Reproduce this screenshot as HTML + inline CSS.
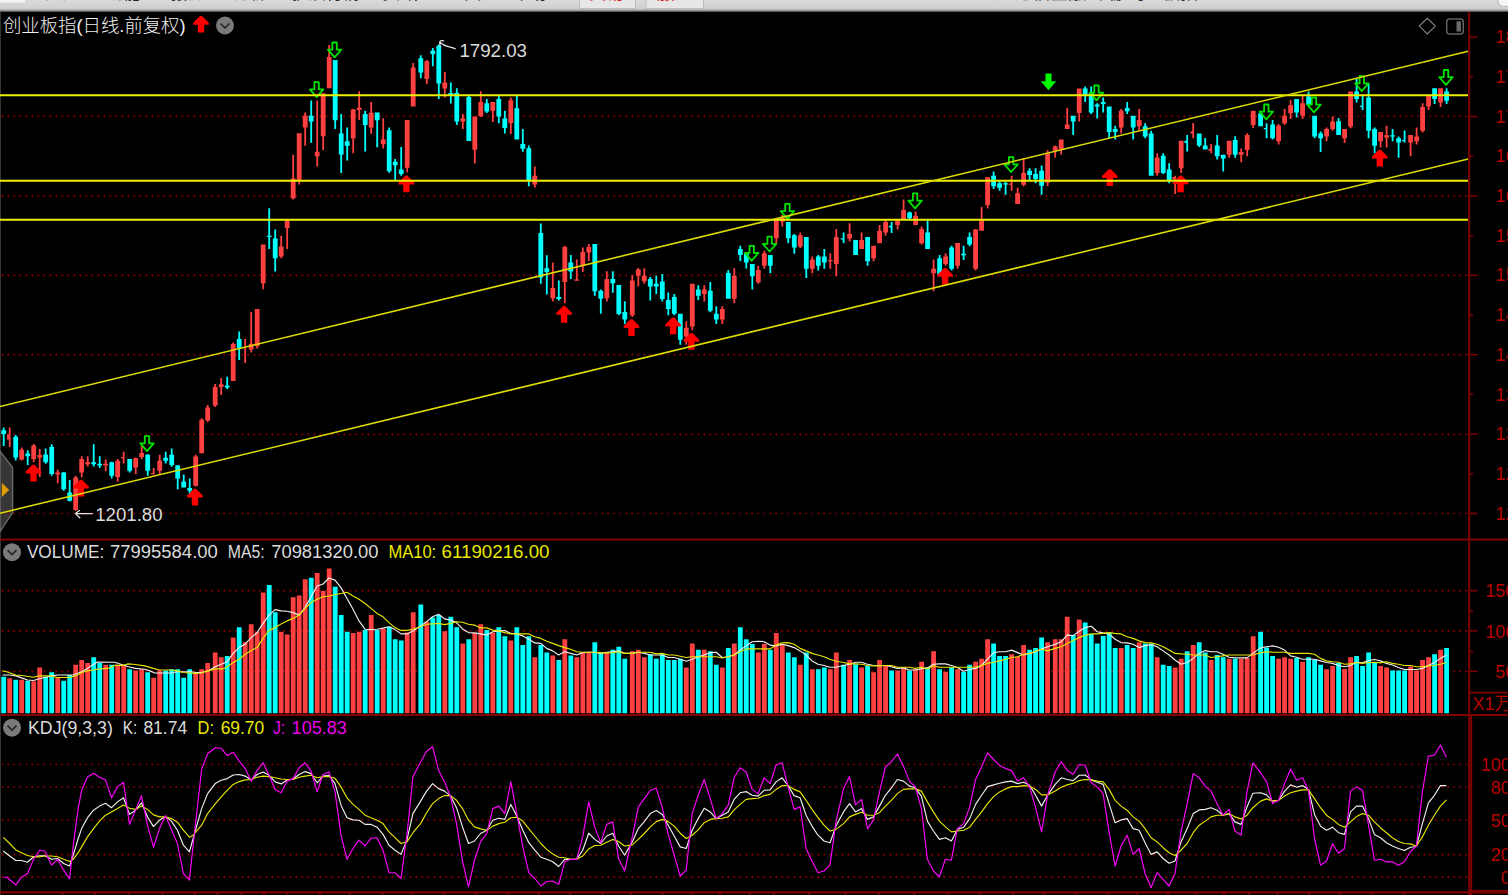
<!DOCTYPE html>
<html lang="zh"><head><meta charset="utf-8"><title>创业板指</title>
<style>
html,body{margin:0;padding:0;background:#000;overflow:hidden}
svg{display:block}
text{font-family:"Liberation Sans","Noto Sans CJK SC",sans-serif;font-size:18px}
.w{fill:#dcdcdc} .y{fill:#eaea00} .m{fill:#e800e8} .r{fill:#b80000}
.menu{font-size:14px;fill:#222}
</style></head><body>
<svg width="1508" height="895" viewBox="0 0 1508 895" shape-rendering="auto">
<defs>
<linearGradient id="tb" x1="0" y1="0" x2="0" y2="1"><stop offset="0" stop-color="#dadada"/><stop offset="0.7" stop-color="#d0d0d0"/><stop offset="0.85" stop-color="#a8a8a8"/><stop offset="1" stop-color="#3a3a3a"/></linearGradient>
<path id="ru" d="M-1,-0.2 L1,-0.2 L7.8,6.6 L7.8,8.6 L3.2,8.6 L3.2,16.5 L-3.2,16.5 L-3.2,8.6 L-7.8,8.6 L-7.8,6.6 Z" fill="#ff0000"/>
<path id="gd" d="M-2.2,0.9 L2.2,0.9 L2.2,8.1 L6.7,8.1 L0,15.8 L-6.7,8.1 L-2.2,8.1 Z" fill="none" stroke="#00e400" stroke-width="1.8" stroke-linejoin="round"/>
<path id="gf" d="M-3,0 L3,0 L3,7.7 L7.7,7.7 L0,16.8 L-7.7,7.7 L-3,7.7 Z" fill="#00ff00"/>
<g id="cb"><circle r="9" fill="#7a7a7a"/><path d="M-4.5,-2 L0,2.4 L4.5,-2" fill="none" stroke="#262626" stroke-width="1.7"/></g>
</defs>
<rect width="1508" height="895" fill="#000"/>

<rect x="0" y="12" width="1" height="883" fill="#343434"/>
<path d="M0,451.2 L12.6,467.6 L12.6,512.8 L0,531.5 Z" fill="#363636" stroke="#6a6a6a" stroke-width="1.4"/>
<path d="M1.8,482.8 L9.2,489.9 L1.8,497 Z" fill="#e09a00"/>
<g id="grid">
<line x1="1.4" y1="116.3" x2="1467.2" y2="116.3" stroke="#8c0000" stroke-width="1.7" stroke-dasharray="1.8 4.2"/>
<line x1="1.4" y1="195.8" x2="1467.2" y2="195.8" stroke="#8c0000" stroke-width="1.7" stroke-dasharray="1.8 4.2"/>
<line x1="1.4" y1="275.3" x2="1467.2" y2="275.3" stroke="#8c0000" stroke-width="1.7" stroke-dasharray="1.8 4.2"/>
<line x1="1.4" y1="354.6" x2="1467.2" y2="354.6" stroke="#8c0000" stroke-width="1.7" stroke-dasharray="1.8 4.2"/>
<line x1="1.4" y1="434.4" x2="1467.2" y2="434.4" stroke="#8c0000" stroke-width="1.7" stroke-dasharray="1.8 4.2"/>
<line x1="1.4" y1="513.5" x2="1467.2" y2="513.5" stroke="#8c0000" stroke-width="1.7" stroke-dasharray="1.8 4.2"/>
<line x1="1.4" y1="590.6" x2="1467.2" y2="590.6" stroke="#8c0000" stroke-width="1.7" stroke-dasharray="1.8 4.2"/>
<line x1="1.4" y1="630.9" x2="1467.2" y2="630.9" stroke="#8c0000" stroke-width="1.7" stroke-dasharray="1.8 4.2"/>
<line x1="1.4" y1="671.4" x2="1467.2" y2="671.4" stroke="#8c0000" stroke-width="1.7" stroke-dasharray="1.8 4.2"/>
<line x1="1.4" y1="764.5" x2="1467.2" y2="764.5" stroke="#8c0000" stroke-width="1.7" stroke-dasharray="1.8 4.2"/>
<line x1="1.4" y1="787" x2="1467.2" y2="787" stroke="#8c0000" stroke-width="1.7" stroke-dasharray="1.8 4.2"/>
<line x1="1.4" y1="820" x2="1467.2" y2="820" stroke="#8c0000" stroke-width="1.7" stroke-dasharray="1.8 4.2"/>
<line x1="1.4" y1="854.7" x2="1467.2" y2="854.7" stroke="#8c0000" stroke-width="1.7" stroke-dasharray="1.8 4.2"/>
<line x1="1.4" y1="877.2" x2="1467.2" y2="877.2" stroke="#8c0000" stroke-width="1.7" stroke-dasharray="1.8 4.2"/>
</g>
<path id="cr" d="M8.8,427.6h1.8V447.1h-1.8zM6.9,434.5h2.4v5h-2.4zM20.8,447.5h1.8V460.6h-1.8zM19.3,449.8h4.8v9.6h-4.8zM32.8,443.9h1.8V462.2h-1.8zM31.3,445.5h4.8v13.5h-4.8zM38.8,449h1.8V476.9h-1.8zM37.3,455h4.8v2.4h-4.8zM56.8,469.7h1.8V483.3h-1.8zM55.3,472.5h4.8v2h-4.8zM74.8,475.7h1.8V510.7h-1.8zM73.3,477.4h4.8v32.5h-4.8zM80.8,456.2h1.8V477.3h-1.8zM79.3,459h4.8v13.5h-4.8zM86.8,456.2h1.8V466.5h-1.8zM85.3,462.2h4.8v2h-4.8zM104.8,459.4h1.8V471.3h-1.8zM103.3,463.8h4.8v1.6h-4.8zM116.8,459h1.8V481.7h-1.8zM115.3,460.7h4.8v16.2h-4.8zM122.8,451.7h1.8V463.4h-1.8zM120.9,457h2.4v1.3h-2.4zM134.8,457.4h1.8V474.1h-1.8zM133.3,458.3h4.8v9.1h-4.8zM140.8,446h1.8V459.3h-1.8zM139.3,453h4.8v3.9h-4.8zM152.8,468.1h1.8V474.5h-1.8zM150.9,473h2.4v1.3h-2.4zM158.8,454.7h1.8V474.2h-1.8zM157.3,460.8h4.8v9.9h-4.8zM194.8,454.7h1.8V486.6h-1.8zM193.3,456.4h4.8v29.3h-4.8zM200.8,418.3h1.8V453.3h-1.8zM199.3,419.8h4.8v33.5h-4.8zM206.8,405h1.8V422h-1.8zM205.3,407.6h4.8v13h-4.8zM214.3,383.9h1.8V407h-1.8zM212.8,386.9h4.8v18.6h-4.8zM220.3,378h1.8V395h-1.8zM218.8,384.2h4.8v2.7h-4.8zM232.3,342.4h1.8V380.9h-1.8zM230.8,344.1h4.8v36.8h-4.8zM244.3,339.1h1.8V362.9h-1.8zM242.4,347h2.4v1.3h-2.4zM250.3,312.1h1.8V352.6h-1.8zM248.8,343.7h4.8v5.9h-4.8zM256.3,309h1.8V348.6h-1.8zM254.8,309h4.8v37.3h-4.8zM262.3,244.5h1.8V289.3h-1.8zM260.8,244.5h4.8v38.7h-4.8zM280.3,235.7h1.8V258.2h-1.8zM278.8,246.5h4.8v10h-4.8zM286.3,219.9h1.8V249h-1.8zM284.8,220.4h4.8v7.5h-4.8zM292.3,154.7h1.8V199.6h-1.8zM290.8,178.6h4.8v19.7h-4.8zM298.3,133.2h1.8V184.6h-1.8zM296.8,133.2h4.8v46.7h-4.8zM304.3,112.4h1.8V145.7h-1.8zM302.8,115.7h4.8v11.7h-4.8zM316.3,100.4h1.8V166.5h-1.8zM314.8,151.8h4.8v4.4h-4.8zM322.3,93.2h1.8V150.2h-1.8zM320.8,93.2h4.8v43h-4.8zM328.3,45h1.8V88.2h-1.8zM326.8,57h4.8v31.2h-4.8zM352.3,109h1.8V153.2h-1.8zM350.8,109.6h4.8v28.6h-4.8zM358.3,91.2h1.8V119.9h-1.8zM356.8,107.7h4.8v2.2h-4.8zM370.3,101.9h1.8V133.7h-1.8zM368.8,112.7h4.8v14.7h-4.8zM382.3,118.2h1.8V148.4h-1.8zM380.8,139.5h4.8v4.8h-4.8zM406.3,119.9h1.8V172.5h-1.8zM404.8,119.9h4.8v47.9h-4.8zM412.3,62.9h1.8V106.6h-1.8zM410.8,67.4h4.8v39.2h-4.8zM425.9,60h1.8V84.1h-1.8zM424.4,61.3h4.8v17.8h-4.8zM443.9,72.1h1.8V97.4h-1.8zM442.4,82.4h4.8v6.2h-4.8zM461.9,114h1.8V129h-1.8zM460.4,118.5h4.8v3h-4.8zM473.9,116.5h1.8V163.5h-1.8zM472.4,116.5h4.8v33.3h-4.8zM479.9,91.2h1.8V117h-1.8zM478.4,101.9h4.8v14.3h-4.8zM491.9,101.9h1.8V121.9h-1.8zM490.4,101.9h4.8v8.8h-4.8zM509.9,97.4h1.8V134h-1.8zM508.4,100.2h4.8v22.7h-4.8zM533.9,166.6h1.8V187.4h-1.8zM532.4,175.7h4.8v8.8h-4.8zM551.9,262.4h1.8V301.5h-1.8zM550.4,287.9h4.8v10.3h-4.8zM563.9,245.8h1.8V303.2h-1.8zM562.4,247.1h4.8v34.8h-4.8zM575.9,259.6h1.8V280.4h-1.8zM574.4,279.4h4.8v1.3h-4.8zM581.9,247.4h1.8V271.9h-1.8zM580.4,251.9h4.8v13.8h-4.8zM587.9,244.1h1.8V261.1h-1.8zM586.4,247.1h4.8v5.3h-4.8zM605.9,271.2h1.8V301.5h-1.8zM604.4,279.1h4.8v19.1h-4.8zM631.4,275.2h1.8V317h-1.8zM629.9,280.4h4.8v34.9h-4.8zM637.4,267.9h1.8V286.6h-1.8zM635.9,269.6h4.8v6.1h-4.8zM643.4,268.2h1.8V283.7h-1.8zM641.9,275.7h4.8v5.5h-4.8zM685.4,321.2h1.8V344.8h-1.8zM683.9,327.8h4.8v8.7h-4.8zM691.4,283.7h1.8V330.3h-1.8zM689.9,283.7h4.8v42.8h-4.8zM703.4,285.2h1.8V301.5h-1.8zM701.9,289.5h4.8v4.5h-4.8zM721.4,306.2h1.8V324h-1.8zM719.9,309h4.8v10.5h-4.8zM733.4,268.2h1.8V303.2h-1.8zM731.9,275.7h4.8v23h-4.8zM757.4,265.7h1.8V283.7h-1.8zM755.9,269.9h4.8v12.4h-4.8zM763.4,250.7h1.8V268.7h-1.8zM761.9,253.2h4.8v12.5h-4.8zM775.4,219.9h1.8V243.2h-1.8zM773.9,219.9h4.8v18.3h-4.8zM781.4,214.9h1.8V226.6h-1.8zM779.9,217.4h4.8v4.2h-4.8zM799.4,232.4h1.8V247.9h-1.8zM797.9,235.2h4.8v11.4h-4.8zM811.4,256.6h1.8V273.2h-1.8zM809.9,259.5h4.8v9.2h-4.8zM829.4,253.2h1.8V268.7h-1.8zM827.9,260h4.8v1.3h-4.8zM835.4,229.1h1.8V276.2h-1.8zM833.9,236.9h4.8v27.1h-4.8zM848.7,223.3h1.8V241.6h-1.8zM847.2,234.1h4.8v4.5h-4.8zM860.7,232.4h1.8V249.1h-1.8zM859.2,239.9h4.8v9.2h-4.8zM872.7,245.7h1.8V261.2h-1.8zM871.2,245.7h4.8v12.5h-4.8zM878.7,224.9h1.8V243.2h-1.8zM877.2,230.8h4.8v12.4h-4.8zM884.7,219.9h1.8V235.7h-1.8zM883.2,221.9h4.8v10.5h-4.8zM896.7,219.9h1.8V229.6h-1.8zM895.2,220.8h4.8v4.1h-4.8zM902.7,199.6h1.8V219.1h-1.8zM901.2,209.9h4.8v9.2h-4.8zM914.7,211.6h1.8V224.9h-1.8zM913.2,215.8h4.8v9.1h-4.8zM920.7,226.6h1.8V244.6h-1.8zM919.2,229.1h4.8v14.1h-4.8zM932.7,259.5h1.8V291.2h-1.8zM931.2,268.7h4.8v4.5h-4.8zM944.7,253.2h1.8V265.7h-1.8zM943.2,256.6h4.8v7.4h-4.8zM956.7,242.9h1.8V268.7h-1.8zM955.2,242.9h4.8v22.8h-4.8zM974.7,229h1.8V270.4h-1.8zM973.2,229.6h4.8v39.1h-4.8zM980.7,206.9h1.8V230.8h-1.8zM979.2,220.3h4.8v10.5h-4.8zM986.7,177h1.8V208.5h-1.8zM985.2,177.2h4.8v27.8h-4.8zM1010.7,175.7h1.8V190.7h-1.8zM1008.8,183.5h2.4v1.3h-2.4zM1016.7,187.8h1.8V204h-1.8zM1015.2,193.2h4.8v10.8h-4.8zM1022.7,158.2h1.8V186.2h-1.8zM1021.2,172.9h4.8v11.9h-4.8zM1046.7,150.2h1.8V186.2h-1.8zM1045.2,153.2h4.8v29.6h-4.8zM1054.3,145.4h1.8V157.4h-1.8zM1052.8,146.6h4.8v4.1h-4.8zM1060.3,139.6h1.8V154.5h-1.8zM1058.8,139.6h4.8v10h-4.8zM1066.3,107.9h1.8V129.1h-1.8zM1064.8,124.6h4.8v4.5h-4.8zM1078.3,88.6h1.8V121.6h-1.8zM1076.8,88.6h4.8v24.3h-4.8zM1120.3,109.1h1.8V133.6h-1.8zM1118.8,110.8h4.8v16.6h-4.8zM1138.3,109.1h1.8V130.2h-1.8zM1136.8,119.9h4.8v6.4h-4.8zM1156.3,153.2h1.8V175.7h-1.8zM1154.8,157.4h4.8v15.5h-4.8zM1174.3,175.7h1.8V194h-1.8zM1172.4,177h2.4v2.5h-2.4zM1180.3,140.7h1.8V172.9h-1.8zM1178.8,140.7h4.8v27.5h-4.8zM1192.3,122.9h1.8V138.2h-1.8zM1190.4,131.6h2.4v2h-2.4zM1210.3,144.1h1.8V153.2h-1.8zM1208.4,148.7h2.4v2h-2.4zM1228.3,140.7h1.8V157.8h-1.8zM1226.8,140.7h4.8v14.1h-4.8zM1240.3,148.5h1.8V162.3h-1.8zM1238.8,151.9h4.8v2.9h-4.8zM1246.3,133.2h1.8V156.2h-1.8zM1244.8,134.9h4.8v15h-4.8zM1252.3,110.7h1.8V127.9h-1.8zM1250.8,110.7h4.8v14.2h-4.8zM1277.7,124.1h1.8V144.5h-1.8zM1276.2,125.7h4.8v15.5h-4.8zM1283.7,109.1h1.8V124.9h-1.8zM1282.2,115.7h4.8v7.5h-4.8zM1289.7,99.9h1.8V119.1h-1.8zM1288.2,105.2h4.8v8h-4.8zM1301.7,95.8h1.8V119.1h-1.8zM1300.2,103.2h4.8v12.5h-4.8zM1325.7,127.4h1.8V141.2h-1.8zM1324.2,129h4.8v7.5h-4.8zM1331.7,116.6h1.8V130.7h-1.8zM1330.2,121.6h4.8v7.4h-4.8zM1343.7,129h1.8V142.9h-1.8zM1342.2,129h4.8v9.2h-4.8zM1349.7,91.6h1.8V128.2h-1.8zM1348.2,91.6h4.8v35h-4.8zM1379.7,131.9h1.8V147.4h-1.8zM1378.2,131.9h4.8v9.3h-4.8zM1385.7,125.7h1.8V147.4h-1.8zM1384.2,135.2h4.8v2.2h-4.8zM1409.7,134.9h1.8V156.2h-1.8zM1408.2,134.9h4.8v7.5h-4.8zM1415.7,127.4h1.8V144.5h-1.8zM1414.2,136.5h4.8v4.7h-4.8zM1421.7,103.2h1.8V132.4h-1.8zM1420.2,106.9h4.8v23.8h-4.8zM1427.7,95.8h1.8V109.9h-1.8zM1426.2,95.8h4.8v10.8h-4.8zM1439.7,88.3h1.8V106.9h-1.8zM1438.2,88.3h4.8v14.1h-4.8z" fill="#ff4040"/>
<path id="cc" d="M2.8,427.6h1.8V445.9h-1.8zM1.3,430.3h4.8v3.6h-4.8zM14.8,435.1h1.8V460.6h-1.8zM13.3,436.7h4.8v20.7h-4.8zM26.8,450.2h1.8V465h-1.8zM25.3,453.4h4.8v2.8h-4.8zM44.8,448.6h1.8V463.8h-1.8zM43.3,454.6h4.8v7.6h-4.8zM50.8,444.3h1.8V475.7h-1.8zM49.3,447h4.8v27.1h-4.8zM62.8,472.1h1.8V490.7h-1.8zM61.3,472.5h4.8v16.7h-4.8zM68.8,479.9h1.8V501.5h-1.8zM67.3,492.4h4.8v8.3h-4.8zM92.8,444.3h1.8V466.5h-1.8zM91.3,462.2h4.8v2h-4.8zM98.8,456.2h1.8V468.1h-1.8zM97.3,463.8h4.8v1.6h-4.8zM110.8,461.8h1.8V478.5h-1.8zM109.3,462.3h4.8v13.4h-4.8zM128.8,459.1h1.8V472.4h-1.8zM127.3,459.1h4.8v11.6h-4.8zM146.8,454.1h1.8V475.8h-1.8zM145.3,454.7h4.8v16h-4.8zM164.8,451.7h1.8V463.4h-1.8zM163.3,457.8h4.8v3h-4.8zM170.8,448.4h1.8V466.8h-1.8zM169.3,454.7h4.8v10.4h-4.8zM176.8,464.9h1.8V489.2h-1.8zM175.3,465.5h4.8v13h-4.8zM182.8,474.4h1.8V487.5h-1.8zM181.3,481.5h4.8v6h-4.8zM188.8,478.6h1.8V493.7h-1.8zM187.3,487.9h4.8v2.8h-4.8zM226.3,376.7h1.8V389h-1.8zM224.8,385.8h4.8v1.6h-4.8zM238.3,331.6h1.8V359.9h-1.8zM236.8,339.1h4.8v9.1h-4.8zM268.3,208.2h1.8V249h-1.8zM266.8,235.8h4.8v1.3h-4.8zM274.3,229.5h1.8V271.5h-1.8zM272.8,238.5h4.8v19.7h-4.8zM310.3,100.4h1.8V142.8h-1.8zM308.8,115.7h4.8v5.8h-4.8zM334.3,60h1.8V129h-1.8zM332.8,60h4.8v60.2h-4.8zM340.3,114h1.8V173h-1.8zM338.8,133.5h4.8v21h-4.8zM346.3,127.4h1.8V160.5h-1.8zM344.8,141.2h4.8v4.5h-4.8zM364.3,110.7h1.8V151.5h-1.8zM362.8,114h4.8v10.9h-4.8zM376.3,112.4h1.8V147.2h-1.8zM374.8,112.4h4.8v7.8h-4.8zM388.3,127.4h1.8V172.8h-1.8zM386.8,130.2h4.8v41h-4.8zM394.3,159h1.8V180.3h-1.8zM392.8,161.7h4.8v3.5h-4.8zM400.3,147h1.8V175.8h-1.8zM398.8,169.6h4.8v4.5h-4.8zM419.9,55.3h1.8V78.3h-1.8zM418.4,58.3h4.8v14.1h-4.8zM431.9,48h1.8V66.3h-1.8zM430.4,50.8h4.8v3.3h-4.8zM437.9,44.6h1.8V99.1h-1.8zM436.4,45.8h4.8v37.8h-4.8zM449.9,82.4h1.8V103.6h-1.8zM448.4,92.9h4.8v2h-4.8zM455.9,88.2h1.8V124.9h-1.8zM454.4,92.9h4.8v28.6h-4.8zM467.9,95.7h1.8V141h-1.8zM466.4,96.9h4.8v44.1h-4.8zM485.9,99.1h1.8V112.9h-1.8zM484.4,103.2h4.8v8.4h-4.8zM497.9,95.7h1.8V123.2h-1.8zM496.4,99.1h4.8v17.4h-4.8zM503.9,110.7h1.8V133.5h-1.8zM502.4,118.5h4.8v9.4h-4.8zM515.9,95.7h1.8V139.6h-1.8zM514.4,108.2h4.8v31.3h-4.8zM521.9,129h1.8V151.7h-1.8zM520.4,144.1h4.8v4.7h-4.8zM527.9,145.5h1.8V186.2h-1.8zM526.4,148.3h4.8v32.4h-4.8zM539.9,223.6h1.8V283.7h-1.8zM538.4,233h4.8v44.4h-4.8zM545.9,255.3h1.8V294.4h-1.8zM544.4,268.2h4.8v3.7h-4.8zM557.9,280.4h1.8V300.4h-1.8zM556.4,297h4.8v2h-4.8zM569.9,254.9h1.8V279.1h-1.8zM568.4,262.4h4.8v9.2h-4.8zM593.9,244.1h1.8V295.7h-1.8zM592.4,244.1h4.8v47.1h-4.8zM599.9,289.5h1.8V313.7h-1.8zM598.4,290.7h4.8v8h-4.8zM611.9,271.2h1.8V292.7h-1.8zM610.4,279.1h4.8v4.1h-4.8zM617.9,284.9h1.8V315.3h-1.8zM616.4,284.9h4.8v29.1h-4.8zM623.9,301.2h1.8V324h-1.8zM622.4,311.9h4.8v7.6h-4.8zM649.4,276.9h1.8V300.4h-1.8zM647.9,279.1h4.8v7.5h-4.8zM655.4,275.7h1.8V294h-1.8zM653.9,283.7h4.8v2.9h-4.8zM661.4,274.1h1.8V301.5h-1.8zM659.9,281.6h4.8v17.4h-4.8zM667.4,292.4h1.8V315.3h-1.8zM665.9,299.9h4.8v9.1h-4.8zM673.4,294h1.8V315.3h-1.8zM671.9,297h4.8v16.7h-4.8zM679.4,313.7h1.8V344.8h-1.8zM677.9,313.7h4.8v26.1h-4.8zM697.4,285.2h1.8V299.9h-1.8zM695.9,289.5h4.8v6.2h-4.8zM709.4,282.1h1.8V312.3h-1.8zM707.9,290.7h4.8v20h-4.8zM715.4,306.2h1.8V324h-1.8zM713.9,313.7h4.8v5.8h-4.8zM727.4,269.9h1.8V298.7h-1.8zM725.9,272.9h4.8v25.8h-4.8zM739.4,245.8h1.8V261h-1.8zM737.9,249.1h4.8v5.8h-4.8zM745.4,253.3h1.8V268.4h-1.8zM743.9,253.3h4.8v9.1h-4.8zM751.4,264h1.8V289.5h-1.8zM749.9,264h4.8v12.2h-4.8zM769.4,254.9h1.8V273.2h-1.8zM767.9,254.9h4.8v10.8h-4.8zM787.4,221.9h1.8V243.2h-1.8zM785.9,221.9h4.8v16.3h-4.8zM793.4,234.1h1.8V253.7h-1.8zM791.9,235.2h4.8v12.2h-4.8zM805.4,236.9h1.8V277.9h-1.8zM803.9,236.9h4.8v31.8h-4.8zM817.4,254.9h1.8V270.4h-1.8zM815.9,256.6h4.8v9.1h-4.8zM823.4,249.1h1.8V268.7h-1.8zM821.9,256.6h4.8v5.8h-4.8zM842.7,232.4h1.8V243.2h-1.8zM840.8,238.2h2.4v1.4h-2.4zM854.7,239.9h1.8V254.9h-1.8zM853.2,239.9h4.8v15h-4.8zM866.7,236.9h1.8V265.7h-1.8zM865.2,236.9h4.8v24.3h-4.8zM890.7,221.9h1.8V232.9h-1.8zM888.8,225.8h2.4v1.6h-2.4zM908.7,211.6h1.8V219.1h-1.8zM907.2,212.4h4.8v5.9h-4.8zM926.7,220.3h1.8V249.1h-1.8zM925.2,232.4h4.8v16.7h-4.8zM938.7,254.9h1.8V274.5h-1.8zM937.2,258.2h4.8v16.3h-4.8zM950.7,245.7h1.8V270.4h-1.8zM949.2,247.4h4.8v21.3h-4.8zM962.7,245.7h1.8V259.9h-1.8zM961.2,253.7h4.8v1.5h-4.8zM968.7,232.4h1.8V246.2h-1.8zM967.2,236.9h4.8v7.7h-4.8zM992.7,171.5h1.8V189h-1.8zM991.2,175.7h4.8v10.5h-4.8zM998.7,181.5h1.8V190.7h-1.8zM997.2,183.2h4.8v4.6h-4.8zM1004.7,181.5h1.8V194.8h-1.8zM1003.2,183.2h4.8v1.3h-4.8zM1028.7,168.2h1.8V180.2h-1.8zM1027.2,170.7h4.8v4.2h-4.8zM1034.7,168.2h1.8V183.2h-1.8zM1033.2,174h4.8v5h-4.8zM1040.7,165.4h1.8V194.8h-1.8zM1039.2,170.7h4.8v15h-4.8zM1072.3,115.8h1.8V134.9h-1.8zM1070.8,115.8h4.8v5.8h-4.8zM1084.3,86.6h1.8V102h-1.8zM1082.8,88.6h4.8v6h-4.8zM1090.3,86.6h1.8V114.1h-1.8zM1088.8,92.5h4.8v19.9h-4.8zM1096.3,103.3h1.8V118.6h-1.8zM1094.8,104.6h4.8v2h-4.8zM1102.3,97.5h1.8V112.4h-1.8zM1100.8,102h4.8v2.1h-4.8zM1108.3,106.6h1.8V138.2h-1.8zM1106.8,106.6h4.8v25.3h-4.8zM1114.3,125.8h1.8V139.6h-1.8zM1112.8,129.1h4.8v2.8h-4.8zM1126.3,102h1.8V114.1h-1.8zM1124.8,107.9h4.8v3.4h-4.8zM1132.3,115.8h1.8V139.6h-1.8zM1130.8,115.8h4.8v11.6h-4.8zM1144.3,123.3h1.8V138.2h-1.8zM1142.8,126.3h4.8v10.3h-4.8zM1150.3,130.7h1.8V175.7h-1.8zM1148.8,133.6h4.8v42.1h-4.8zM1162.3,153.2h1.8V174h-1.8zM1160.8,155.7h4.8v17.2h-4.8zM1168.3,163.2h1.8V183.2h-1.8zM1166.8,169.5h4.8v10.7h-4.8zM1186.3,134.9h1.8V151.6h-1.8zM1184.4,140.7h2.4v2.2h-2.4zM1198.3,133.6h1.8V147.1h-1.8zM1196.8,133.6h4.8v11.8h-4.8zM1204.3,137.9h1.8V149.6h-1.8zM1202.8,145.4h4.8v4.2h-4.8zM1216.3,134.9h1.8V159.5h-1.8zM1214.8,145.4h4.8v10.8h-4.8zM1222.3,154.8h1.8V171.4h-1.8zM1220.8,154.8h4.8v3.8h-4.8zM1234.3,136.2h1.8V157.8h-1.8zM1232.8,139.9h4.8v14.9h-4.8zM1259.7,113.2h1.8V126.2h-1.8zM1258.2,113.2h4.8v13h-4.8zM1265.7,123.2h1.8V138.2h-1.8zM1263.8,127.9h2.4v1.3h-2.4zM1271.7,119.9h1.8V139.5h-1.8zM1270.2,124.6h4.8v13.6h-4.8zM1295.7,99.1h1.8V117.4h-1.8zM1294.2,99.1h4.8v13.3h-4.8zM1307.7,91.6h1.8V104.9h-1.8zM1306.2,96.6h4.8v8.3h-4.8zM1313.7,115.7h1.8V138.2h-1.8zM1312.2,115.7h4.8v20.8h-4.8zM1319.7,131.5h1.8V151.9h-1.8zM1318.2,133.5h4.8v4.7h-4.8zM1337.7,117.9h1.8V134.9h-1.8zM1336.2,121.2h4.8v13.7h-4.8zM1355.7,79.1h1.8V102.4h-1.8zM1354.2,91.6h4.8v7.5h-4.8zM1361.7,95.8h1.8V109.9h-1.8zM1359.8,105.7h2.4v1.3h-2.4zM1367.7,83.6h1.8V138.2h-1.8zM1366.2,97.4h4.8v33.3h-4.8zM1373.7,127.4h1.8V153.2h-1.8zM1372.2,129h4.8v16.7h-4.8zM1391.7,129h1.8V141.2h-1.8zM1390.2,135.2h4.8v1.3h-4.8zM1397.7,136.5h1.8V157.8h-1.8zM1396.2,138.2h4.8v4.2h-4.8zM1403.7,130.4h1.8V142.4h-1.8zM1401.8,139.9h2.4v1.3h-2.4zM1433.7,88.3h1.8V104.1h-1.8zM1432.2,88.3h4.8v10.8h-4.8zM1445.7,88.3h1.8V104.1h-1.8zM1444.2,91.6h4.8v9.2h-4.8z" fill="#00ffff"/>
<g id="arrows">
<use href="#ru" x="33.5" y="465"/>
<use href="#ru" x="81" y="480"/>
<use href="#ru" x="195" y="489"/>
<use href="#ru" x="406.4" y="175.8"/>
<use href="#ru" x="564.1" y="306.2"/>
<use href="#ru" x="631.5" y="319.5"/>
<use href="#ru" x="673.1" y="317.8"/>
<use href="#ru" x="691.4" y="333.2"/>
<use href="#ru" x="945.1" y="268.2"/>
<use href="#ru" x="1109.8" y="169.5"/>
<use href="#ru" x="1180.6" y="175.7"/>
<use href="#ru" x="1379.8" y="149.9"/>
<use href="#ru" x="201" y="16.1"/>
<use href="#gd" x="147" y="435.3"/>
<use href="#gd" x="316.6" y="81.3"/>
<use href="#gd" x="334.6" y="41.6"/>
<use href="#gd" x="751.7" y="244.9"/>
<use href="#gd" x="769.6" y="235.7"/>
<use href="#gd" x="787.4" y="203"/>
<use href="#gd" x="915.1" y="192.5"/>
<use href="#gd" x="1011.1" y="156.2"/>
<use href="#gd" x="1096.5" y="84.6"/>
<use href="#gd" x="1266.3" y="103.6"/>
<use href="#gd" x="1314" y="96.6"/>
<use href="#gd" x="1361.8" y="75.3"/>
<use href="#gd" x="1446" y="69.1"/>
<use href="#gf" x="1048.5" y="73.5"/>
</g>
<g id="ylines" stroke-linecap="butt">
<line x1="0" y1="95.2" x2="1468.2" y2="95.2" stroke="#eeee00" stroke-width="2.1"/>
<line x1="0" y1="180.8" x2="1468.2" y2="180.8" stroke="#eeee00" stroke-width="2.1"/>
<line x1="0" y1="219.7" x2="1468.2" y2="219.7" stroke="#eeee00" stroke-width="2.1"/>
<line x1="0" y1="406.5" x2="1468.2" y2="51.3" stroke="#dcdc00" stroke-width="1.55"/>
<line x1="0" y1="513.2" x2="1468.2" y2="159" stroke="#dcdc00" stroke-width="1.55"/>
</g>
<path id="vr" d="M7.3,678.3h4.8V713.2h-4.8zM19.3,679.7h4.8V713.2h-4.8zM31.3,681.3h4.8V713.2h-4.8zM37.3,667.5h4.8V713.2h-4.8zM55.3,677.8h4.8V713.2h-4.8zM73.3,664.7h4.8V713.2h-4.8zM79.3,660h4.8V713.2h-4.8zM85.3,663h4.8V713.2h-4.8zM103.3,664.7h4.8V713.2h-4.8zM115.3,664.7h4.8V713.2h-4.8zM121.3,665.9h4.8V713.2h-4.8zM133.3,670.5h4.8V713.2h-4.8zM139.3,669.2h4.8V713.2h-4.8zM151.3,677.8h4.8V713.2h-4.8zM157.3,670.5h4.8V713.2h-4.8zM193.3,673.4h4.8V713.2h-4.8zM199.3,669.2h4.8V713.2h-4.8zM205.3,663h4.8V713.2h-4.8zM212.8,652.6h4.8V713.2h-4.8zM218.8,657.2h4.8V713.2h-4.8zM230.8,637.6h4.8V713.2h-4.8zM242.8,642.2h4.8V713.2h-4.8zM248.8,624.3h4.8V713.2h-4.8zM254.8,631.7h4.8V713.2h-4.8zM260.8,592.6h4.8V713.2h-4.8zM278.8,631.7h4.8V713.2h-4.8zM284.8,634.6h4.8V713.2h-4.8zM290.8,597.3h4.8V713.2h-4.8zM296.8,595.6h4.8V713.2h-4.8zM302.8,579.3h4.8V713.2h-4.8zM314.8,573h4.8V713.2h-4.8zM320.8,591h4.8V713.2h-4.8zM326.8,568.5h4.8V713.2h-4.8zM350.8,632.9h4.8V713.2h-4.8zM356.8,631.7h4.8V713.2h-4.8zM368.8,615.1h4.8V713.2h-4.8zM380.8,628.4h4.8V713.2h-4.8zM404.8,632.6h4.8V713.2h-4.8zM410.8,612.3h4.8V713.2h-4.8zM424.4,621.8h4.8V713.2h-4.8zM442.4,631.2h4.8V713.2h-4.8zM460.4,643.4h4.8V713.2h-4.8zM472.4,632.9h4.8V713.2h-4.8zM478.4,624.3h4.8V713.2h-4.8zM490.4,632.6h4.8V713.2h-4.8zM508.4,640.6h4.8V713.2h-4.8zM532.4,657.2h4.8V713.2h-4.8zM550.4,655.5h4.8V713.2h-4.8zM562.4,639.2h4.8V713.2h-4.8zM574.4,657.2h4.8V713.2h-4.8zM580.4,652.6h4.8V713.2h-4.8zM586.4,652.6h4.8V713.2h-4.8zM604.4,652.6h4.8V713.2h-4.8zM629.9,651.2h4.8V713.2h-4.8zM635.9,649.7h4.8V713.2h-4.8zM641.9,657.2h4.8V713.2h-4.8zM683.9,667.5h4.8V713.2h-4.8zM689.9,643.4h4.8V713.2h-4.8zM701.9,649.7h4.8V713.2h-4.8zM719.9,667.5h4.8V713.2h-4.8zM731.9,643.4h4.8V713.2h-4.8zM755.9,652.6h4.8V713.2h-4.8zM761.9,643.9h4.8V713.2h-4.8zM773.9,632.9h4.8V713.2h-4.8zM779.9,645.1h4.8V713.2h-4.8zM797.9,664.7h4.8V713.2h-4.8zM809.9,669.2h4.8V713.2h-4.8zM827.9,669.2h4.8V713.2h-4.8zM833.9,652.6h4.8V713.2h-4.8zM847.2,660h4.8V713.2h-4.8zM859.2,667.5h4.8V713.2h-4.8zM871.2,672.2h4.8V713.2h-4.8zM877.2,660h4.8V713.2h-4.8zM883.2,665.9h4.8V713.2h-4.8zM895.2,670.5h4.8V713.2h-4.8zM901.2,667.5h4.8V713.2h-4.8zM913.2,669.2h4.8V713.2h-4.8zM919.2,661.7h4.8V713.2h-4.8zM931.2,651.2h4.8V713.2h-4.8zM943.2,671.7h4.8V713.2h-4.8zM955.2,669.2h4.8V713.2h-4.8zM973.2,661.7h4.8V713.2h-4.8zM979.2,658.7h4.8V713.2h-4.8zM985.2,639.2h4.8V713.2h-4.8zM1009.2,654.2h4.8V713.2h-4.8zM1015.2,656.7h4.8V713.2h-4.8zM1021.2,645.1h4.8V713.2h-4.8zM1045.2,642.2h4.8V713.2h-4.8zM1052.8,639.2h4.8V713.2h-4.8zM1058.8,639.2h4.8V713.2h-4.8zM1064.8,616.8h4.8V713.2h-4.8zM1076.8,619.6h4.8V713.2h-4.8zM1118.8,648.1h4.8V713.2h-4.8zM1136.8,642.2h4.8V713.2h-4.8zM1154.8,657.2h4.8V713.2h-4.8zM1172.8,667.5h4.8V713.2h-4.8zM1178.8,658.7h4.8V713.2h-4.8zM1190.8,645.1h4.8V713.2h-4.8zM1208.8,660h4.8V713.2h-4.8zM1226.8,658.7h4.8V713.2h-4.8zM1238.8,658.7h4.8V713.2h-4.8zM1244.8,658h4.8V713.2h-4.8zM1250.8,636.2h4.8V713.2h-4.8zM1276.2,658.7h4.8V713.2h-4.8zM1282.2,657.2h4.8V713.2h-4.8zM1288.2,658.7h4.8V713.2h-4.8zM1300.2,661.7h4.8V713.2h-4.8zM1324.2,669.2h4.8V713.2h-4.8zM1330.2,665.9h4.8V713.2h-4.8zM1342.2,668.9h4.8V713.2h-4.8zM1348.2,657.2h4.8V713.2h-4.8zM1378.2,665.9h4.8V713.2h-4.8zM1384.2,667.5h4.8V713.2h-4.8zM1408.2,666.4h4.8V713.2h-4.8zM1414.2,670.5h4.8V713.2h-4.8zM1420.2,660h4.8V713.2h-4.8zM1426.2,657.2h4.8V713.2h-4.8zM1438.2,649.7h4.8V713.2h-4.8z" fill="#ff4040"/>
<path id="vc" d="M1.3,676.7h4.8V713.2h-4.8zM13.3,679.7h4.8V713.2h-4.8zM25.3,680.8h4.8V713.2h-4.8zM43.3,676.7h4.8V713.2h-4.8zM49.3,672.2h4.8V713.2h-4.8zM61.3,680.8h4.8V713.2h-4.8zM67.3,675h4.8V713.2h-4.8zM91.3,657.2h4.8V713.2h-4.8zM97.3,663h4.8V713.2h-4.8zM109.3,664.7h4.8V713.2h-4.8zM127.3,669.2h4.8V713.2h-4.8zM145.3,672.2h4.8V713.2h-4.8zM163.3,670.5h4.8V713.2h-4.8zM169.3,669.2h4.8V713.2h-4.8zM175.3,669.2h4.8V713.2h-4.8zM181.3,677.8h4.8V713.2h-4.8zM187.3,669.2h4.8V713.2h-4.8zM224.8,655.9h4.8V713.2h-4.8zM236.8,627.3h4.8V713.2h-4.8zM266.8,585.1h4.8V713.2h-4.8zM272.8,612.3h4.8V713.2h-4.8zM308.8,577.7h4.8V713.2h-4.8zM332.8,586.8h4.8V713.2h-4.8zM338.8,615.1h4.8V713.2h-4.8zM344.8,631.7h4.8V713.2h-4.8zM362.8,630.1h4.8V713.2h-4.8zM374.8,630.1h4.8V713.2h-4.8zM386.8,626.8h4.8V713.2h-4.8zM392.8,639.2h4.8V713.2h-4.8zM398.8,640.6h4.8V713.2h-4.8zM418.4,604.6h4.8V713.2h-4.8zM430.4,617.6h4.8V713.2h-4.8zM436.4,615.1h4.8V713.2h-4.8zM448.4,616.8h4.8V713.2h-4.8zM454.4,627.3h4.8V713.2h-4.8zM466.4,639.2h4.8V713.2h-4.8zM484.4,630.1h4.8V713.2h-4.8zM496.4,627.3h4.8V713.2h-4.8zM502.4,636.2h4.8V713.2h-4.8zM514.4,627.3h4.8V713.2h-4.8zM520.4,645.1h4.8V713.2h-4.8zM526.4,636.2h4.8V713.2h-4.8zM538.4,645.1h4.8V713.2h-4.8zM544.4,652.6h4.8V713.2h-4.8zM556.4,660h4.8V713.2h-4.8zM568.4,655.5h4.8V713.2h-4.8zM592.4,642.2h4.8V713.2h-4.8zM598.4,652.6h4.8V713.2h-4.8zM610.4,649.7h4.8V713.2h-4.8zM616.4,646.7h4.8V713.2h-4.8zM622.4,658.7h4.8V713.2h-4.8zM647.9,654.2h4.8V713.2h-4.8zM653.9,658.7h4.8V713.2h-4.8zM659.9,654.2h4.8V713.2h-4.8zM665.9,660h4.8V713.2h-4.8zM671.9,660h4.8V713.2h-4.8zM677.9,658.7h4.8V713.2h-4.8zM695.9,649.7h4.8V713.2h-4.8zM707.9,651.2h4.8V713.2h-4.8zM713.9,664.7h4.8V713.2h-4.8zM725.9,648.1h4.8V713.2h-4.8zM737.9,627.3h4.8V713.2h-4.8zM743.9,639.2h4.8V713.2h-4.8zM749.9,643.9h4.8V713.2h-4.8zM767.9,649.7h4.8V713.2h-4.8zM785.9,652.6h4.8V713.2h-4.8zM791.9,657.2h4.8V713.2h-4.8zM803.9,652.6h4.8V713.2h-4.8zM815.9,669.2h4.8V713.2h-4.8zM821.9,667.5h4.8V713.2h-4.8zM841.2,664.7h4.8V713.2h-4.8zM853.2,664.2h4.8V713.2h-4.8zM865.2,665.9h4.8V713.2h-4.8zM889.2,670.5h4.8V713.2h-4.8zM907.2,670.5h4.8V713.2h-4.8zM925.2,667.5h4.8V713.2h-4.8zM937.2,669.2h4.8V713.2h-4.8zM949.2,667.5h4.8V713.2h-4.8zM961.2,671.7h4.8V713.2h-4.8zM967.2,664.7h4.8V713.2h-4.8zM991.2,643.4h4.8V713.2h-4.8zM997.2,655.9h4.8V713.2h-4.8zM1003.2,655.9h4.8V713.2h-4.8zM1027.2,649.7h4.8V713.2h-4.8zM1033.2,648.1h4.8V713.2h-4.8zM1039.2,637.6h4.8V713.2h-4.8zM1070.8,635.1h4.8V713.2h-4.8zM1082.8,622.6h4.8V713.2h-4.8zM1088.8,633.9h4.8V713.2h-4.8zM1094.8,643.4h4.8V713.2h-4.8zM1100.8,635.9h4.8V713.2h-4.8zM1106.8,632.6h4.8V713.2h-4.8zM1112.8,648.1h4.8V713.2h-4.8zM1124.8,645.1h4.8V713.2h-4.8zM1130.8,648.1h4.8V713.2h-4.8zM1142.8,643.4h4.8V713.2h-4.8zM1148.8,643.4h4.8V713.2h-4.8zM1160.8,664.7h4.8V713.2h-4.8zM1166.8,665.9h4.8V713.2h-4.8zM1184.8,651.2h4.8V713.2h-4.8zM1196.8,642.2h4.8V713.2h-4.8zM1202.8,652.6h4.8V713.2h-4.8zM1214.8,655h4.8V713.2h-4.8zM1220.8,657.2h4.8V713.2h-4.8zM1232.8,658.7h4.8V713.2h-4.8zM1258.2,631.7h4.8V713.2h-4.8zM1264.2,647.6h4.8V713.2h-4.8zM1270.2,655.9h4.8V713.2h-4.8zM1294.2,658h4.8V713.2h-4.8zM1306.2,657.2h4.8V713.2h-4.8zM1312.2,660h4.8V713.2h-4.8zM1318.2,664.7h4.8V713.2h-4.8zM1336.2,663h4.8V713.2h-4.8zM1354.2,655.9h4.8V713.2h-4.8zM1360.2,665.9h4.8V713.2h-4.8zM1366.2,652.6h4.8V713.2h-4.8zM1372.2,663h4.8V713.2h-4.8zM1390.2,670.5h4.8V713.2h-4.8zM1396.2,670.5h4.8V713.2h-4.8zM1402.2,670.5h4.8V713.2h-4.8zM1432.2,654.2h4.8V713.2h-4.8zM1444.2,648.1h4.8V713.2h-4.8z" fill="#00ffff"/>
<polyline points="2.5,675 10,675 15.8,675.9 21.6,677.9 27.5,680 33.3,680.5 39.6,678.8 45.6,677.2 51.6,675.9 57.6,675 66.6,675 73.2,675 81.6,671.7 87.5,668.4 93.5,664.2 97.4,662 114.8,662.2 120.7,664.2 128.2,666.7 135.5,668.4 144.8,669.2 149.8,670.9 154.8,673 171.4,673 177.4,671.7 191.4,671.7 195.6,672.5 201.4,672.5 208.1,670.9 215.2,666.7 221.2,664.2 227.2,661.7 233.2,653.4 239.2,647.6 245.2,643.9 251.2,637.6 257.1,632.6 263.1,623.4 269.1,615.1 275.1,609.6 281.1,610.9 287.1,611.3 293.1,612.6 299.1,615.1 305.1,607.6 311.1,596.8 317.1,586 323.1,584 329,578 335,580.1 341,587.6 347,598.5 353,609.3 359,620.9 365,629.2 371,629.6 377,629.2 383,628.1 389,626.8 395,629.6 401,633.9 406.9,633.9 412.9,630.9 420.6,625.9 426.6,621.8 432.6,616.8 438.6,614.3 444.6,618.9 450.6,620.1 456.5,622.6 462.5,628.9 468.5,632.6 474.5,632.9 480.5,633.9 486.8,635.1 492.8,631.7 498.8,630.9 504.8,630.6 510.8,633.4 516.8,633.9 522.8,635.9 528.8,639.2 534.8,642.9 540.8,643.4 546.7,648.4 552.7,650.9 558.7,655 564.7,651.7 570.7,653.4 576.7,655 582.7,652.6 588.7,652.2 594.7,652.2 600.7,653.4 606.7,652.2 612.7,651.7 618.6,650.9 624.6,653.4 632.3,653.4 638.3,652.2 644.3,653.4 650.3,655 656.3,655 662.3,655 668.2,657.5 674.2,657.5 680.2,659.2 686.2,661.2 692.2,659.2 698.2,656.7 704.2,655 710.2,652.6 716.2,652.2 722.2,657.5 728.2,656.7 734.1,655 740.1,650.1 746.1,645.9 752.1,641.7 758.1,641.2 764.1,641.7 770.1,645.1 776.1,645.9 782.1,644.2 788.1,645.6 794.1,647.6 800.1,650.9 806.1,655 812,660.9 818,664.2 824,665.5 830,667.2 836,667.2 843.5,665.5 849.5,664.2 855.5,662.2 861.5,662.2 867.5,664.2 873.5,665.5 879.5,665.5 885.4,665.5 891.4,666.7 897.4,668.4 903.4,667.9 909.4,670 915.4,670 921.4,668.9 927.4,667.9 933.4,664.2 939.4,663.9 945.4,663.9 951.4,665.5 957.4,667.5 963.7,671.2 969.7,669.5 975.6,668.4 981.6,665.5 987.6,659.2 993.6,652.6 999.6,651.7 1005.6,651.7 1011.6,650.1 1017.6,652.6 1023.6,655 1029.6,653.4 1035.6,651.7 1041.6,648.9 1047.5,646.7 1055.2,644.2 1061.2,641.7 1067.2,635.1 1073.2,635.6 1079.2,631.2 1085.2,627.6 1091.2,626.3 1097.2,631.7 1103.1,632.9 1109.1,633.9 1115.1,639.2 1121.1,642.6 1127.1,642.9 1133.1,644.2 1139.1,647.6 1145.1,645.6 1151.1,644.6 1157.1,646.7 1163.1,650.9 1169.1,655 1175,660 1181,664.2 1187.2,662.5 1193.2,658.4 1199.2,653.4 1205.2,650.6 1211,651.7 1217,651.7 1223,654.2 1229,657.2 1235,657.9 1241,657.9 1247,657.9 1252.9,653.4 1260.6,647.9 1266.6,646.7 1272.6,645.9 1278.6,647.2 1284.6,650.1 1290.6,655.9 1296.6,657.2 1302.5,659.2 1308.5,659.2 1314.5,659.2 1320.5,660.9 1326.5,662.5 1332.5,663.4 1338.5,665.5 1344.5,666.7 1350.5,665.5 1356.5,662.2 1362.5,662.9 1368.5,660.5 1374.4,659.5 1380.4,660.9 1386.4,663.4 1392.4,665 1398.4,667.5 1404.4,669.5 1410.4,669.5 1416.4,669.5 1422.4,668.4 1428.4,665.5 1434.4,662.5 1440.4,658.4 1446.4,655" fill="none" stroke="#f0f0f0" stroke-width="1.15" stroke-linejoin="round"/>
<polyline points="2.5,670.9 6.7,671.7 15.8,675 21.6,675.5 33.3,677.2 39.6,675.9 49.9,675.9 57.6,677.5 69.9,677.5 75.6,675.9 81.6,672.5 87.5,670.9 93.5,670 99.5,668.9 108.2,668.4 114.8,665.4 123.2,665.4 128.2,663.9 133.2,664.2 144.8,665.9 153.1,668.4 159.8,670 171.4,670 177.4,670.9 183.1,672.5 195.6,673.4 201.4,673 208.1,670.9 215.2,668.9 223,668.9 227.2,666.7 233.2,662.5 239.2,659.2 245.2,654.2 251.2,650.6 257.1,647.6 263.1,638.4 269.1,630.1 275.1,627.6 281.1,623.9 287.1,620.9 293.1,618.4 299.1,615.1 305.1,608.4 311.1,602.6 317.1,599.3 323.1,596.8 329,596 335,594.6 341,593.5 347,592.3 353,596 359,599.3 365,603.5 371,608.4 377,613.4 383,616.8 389,622.6 395,627.6 401,630.4 406.9,630.4 412.9,629.2 420.6,626.8 426.6,624.3 432.6,623.9 438.6,623.4 444.6,624.6 450.6,623.4 456.5,621.8 462.5,622.3 468.5,624.3 474.5,625.1 480.5,627.9 486.8,627.9 492.8,630.1 498.8,630.9 504.8,632.6 510.8,633.9 516.8,633.9 522.8,633.9 528.8,633.9 534.8,636.7 540.8,638.4 546.7,641.2 552.7,643.4 558.7,645.6 564.7,647.6 570.7,649.2 576.7,651.7 582.7,652.2 588.7,652.2 594.7,652.2 600.7,652.9 606.7,652.9 612.7,652.6 618.6,651.7 624.6,653.4 632.3,653.4 638.3,652.2 644.3,652.2 650.3,652.2 656.3,653.9 662.3,653.4 668.2,655 674.2,655 680.2,656.2 686.2,657.5 692.2,656.7 698.2,656.7 704.2,656.7 710.2,656.7 716.2,656.7 722.2,658 728.2,656.7 734.1,655 740.1,651.7 746.1,648.9 752.1,648.9 758.1,648.9 764.1,648.9 770.1,648.9 776.1,645.1 782.1,642.9 788.1,642.6 794.1,644.2 800.1,648.4 806.1,650.9 812,653.4 818,655 824,656.7 830,659.2 836,661.2 843.5,662.5 849.5,663.9 855.5,663.9 861.5,664.2 867.5,665.5 873.5,665.9 879.5,665.9 885.4,665.5 891.4,665.5 897.4,667.2 903.4,667.2 909.4,667.2 915.4,668.4 921.4,667.2 927.4,668.9 933.4,665.9 939.4,667.2 945.4,667.2 951.4,667.2 957.4,667.2 963.7,667.2 969.7,667.2 975.6,667.2 981.6,665.5 987.6,663.4 993.6,662.2 999.6,660.9 1005.6,659.2 1011.6,657.5 1017.6,656.7 1023.6,654.2 1029.6,653.4 1035.6,651.2 1041.6,649.2 1047.5,650.9 1055.2,648.4 1061.2,646.7 1067.2,643.4 1073.2,640.6 1079.2,637.6 1085.2,635.1 1091.2,633.9 1097.2,633.9 1103.1,633.4 1109.1,632.6 1115.1,633.4 1121.1,633.9 1127.1,636.7 1133.1,638.4 1139.1,640.9 1145.1,642.6 1151.1,642.9 1157.1,644.2 1163.1,646.7 1169.1,650.1 1175,653.4 1181,653.9 1187.2,654.2 1193.2,655 1199.2,655 1205.2,655 1211,657.5 1217,656.7 1223,655.9 1229,655 1235,655 1241,655 1247,655 1252.9,655 1260.6,652.6 1266.6,651.7 1272.6,652.2 1278.6,652.2 1284.6,652.2 1290.6,653.4 1296.6,653.4 1302.5,653.4 1308.5,653.4 1314.5,654.2 1320.5,658.4 1326.5,660.9 1332.5,661.7 1338.5,662.2 1344.5,664.2 1350.5,663.9 1356.5,662.5 1362.5,663.4 1368.5,662.5 1374.4,662.2 1380.4,662.9 1386.4,661.7 1392.4,663.4 1398.4,664.2 1404.4,665.5 1410.4,665.5 1416.4,666.7 1422.4,666.7 1428.4,665.9 1434.4,665.5 1440.4,664.2 1446.4,662.5" fill="none" stroke="#e6e600" stroke-width="1.15" stroke-linejoin="round"/>
<polyline points="3.3,851 9.7,856 15.8,860.5 21.6,860.5 27.5,862.2 33.6,856.8 39.6,855.7 44.9,855.7 51.6,859.3 57.6,858.5 63.6,863.5 69.6,866 73.2,855.2 78.2,838.5 81.6,828.6 87.5,817.7 93.5,810.2 99.5,806.1 105.5,803.3 111.5,807.7 117.5,801.9 123.5,797.8 129.5,814.4 135.5,810.2 141.5,802.8 147.5,816.9 153.5,826.6 159.5,820.2 165.4,816.6 171.4,821.1 177.4,830.2 183.4,845.2 189.4,851.9 193.1,838.5 201.6,808.6 207.6,793.6 215.2,783.6 221.2,780.3 227.2,778.6 233.2,775 239.2,774.5 245.2,776.1 251.2,779.9 257.1,774.5 263.1,772 269.1,775.3 275.1,781.9 281.1,783.9 287.1,779.9 293.1,779 299.1,774.5 305.1,771.6 311.1,773.6 317.1,782.8 323.1,776.1 329,775.3 335,783.6 341,805.2 347,817.7 353,819.9 359,820.2 365,824.4 371,824.4 377,827.2 383,834.4 389,845.2 395,850.2 401,854.4 406.9,840.2 412.9,813.6 420.6,801.1 426.6,791.1 432.6,783.6 438.6,788.6 444.6,791.1 450.6,796.1 456.5,807.7 462.5,826.9 468.5,843.5 474.5,841 480.5,833.5 486.8,830.2 492.8,820.2 498.8,818.2 504.8,819.4 510.8,804.4 516.8,816.1 522.8,830.2 528.8,842.7 534.8,850.2 540.8,857.2 546.7,859.3 552.7,861.8 558.7,866.5 564.7,859.3 570.7,859.3 576.7,859.3 582.7,850.2 588.7,833.2 594.7,839.4 600.7,843.5 606.7,836 612.7,833.2 618.6,846 624.6,855.2 632.3,841.9 638.3,828.6 644.3,821.6 650.3,813.6 656.3,810.6 662.3,814.4 668.2,825.2 674.2,836 680.2,846.9 686.2,848.5 692.2,830.2 698.2,818.6 704.2,808.2 710.2,811.9 716.2,818.6 722.2,815.2 728.2,811.9 734.1,799.4 740.1,792.8 746.1,791.6 752.1,795.3 758.1,796.1 764.1,790.3 770.1,789.9 776.1,781.9 782.1,777.8 788.1,785.6 794.1,795.6 800.1,797.8 806.1,815.2 812,826.1 818,835.2 824,841 830,842.7 836,826.1 843.5,811.9 849.5,803.6 855.5,811.9 861.5,808.6 867.5,819.4 873.5,816.9 879.5,806.1 885.4,795.3 891.4,787.8 897.4,779.5 903.4,781.1 909.4,786.1 915.4,787.8 921.4,796.1 927.4,821.1 933.4,831 939.4,839.4 945.4,837.7 951.4,841 957.4,829.4 963.7,827.2 969.7,818.6 975.6,804.4 981.6,795.3 987.6,786.6 993.6,784.9 999.6,783.3 1005.6,781.9 1011.6,781.1 1017.6,783.6 1023.6,782.3 1029.6,785.3 1035.6,795.3 1041.6,806.1 1047.5,795.3 1055.2,784.4 1061.2,777.8 1067.2,779.5 1073.2,780.6 1079.2,775.3 1085.2,775 1091.2,779.9 1097.2,782.3 1103.1,784.4 1109.1,803.6 1115.1,822.7 1121.1,819.9 1127.1,818.6 1133.1,828.6 1139.1,830.2 1145.1,842.7 1151.1,854.4 1157.1,851.9 1163.1,858.5 1169.1,863.2 1175,861 1181,841.9 1187.2,828.6 1193.2,813.6 1199.2,809.9 1205.2,809.4 1211,807.7 1217,810.2 1223,815.2 1229,813.6 1235,821.9 1241,824.4 1247,806.9 1252.9,793.3 1260.6,792.8 1266.6,794.9 1272.6,801.1 1278.6,800.3 1284.6,791.1 1290.6,784.9 1296.6,787.3 1302.5,785.6 1308.5,789.4 1314.5,814.4 1320.5,826.1 1326.5,830.2 1332.5,827.2 1338.5,832.7 1344.5,834.4 1350.5,811.9 1356.5,806.1 1362.5,806.1 1368.5,818.6 1374.4,834.4 1380.4,837.7 1386.4,842.7 1392.4,846 1398.4,848.5 1404.4,850.5 1410.4,847.2 1416.4,846.5 1422.4,823.6 1428.4,802.8 1434.4,795.3 1440.4,785.6 1446.4,785.6" fill="none" stroke="#f0f0f0" stroke-width="1.15" stroke-linejoin="round"/>
<polyline points="3.3,837.4 9.7,843.5 15.8,849.9 21.6,852.7 27.5,855.5 33.6,856.8 39.6,856.8 44.9,856 51.6,856 57.6,856.8 63.6,859.3 69.6,861.5 73.2,859.3 78.2,852.7 81.6,846.9 87.5,836.9 93.5,828.6 99.5,821.1 105.5,815.2 111.5,811.9 117.5,808.6 123.5,804.9 129.5,808.2 135.5,809.4 141.5,806.1 147.5,809.4 153.5,814.9 159.5,816.9 165.4,816.9 171.4,818.6 177.4,822.2 183.4,830.2 189.4,837.2 193.1,835.2 201.6,825.2 207.6,813.6 215.2,803.9 221.2,796.9 227.2,790.3 233.2,784.4 239.2,781.6 245.2,779.9 251.2,779.5 257.1,777.3 263.1,776.1 269.1,776.6 275.1,777.8 281.1,779 287.1,779.5 293.1,779.5 299.1,777.3 305.1,776.1 311.1,775.3 317.1,777.8 323.1,776.6 329,776.6 335,778.3 341,786.9 347,797.8 353,804.4 359,809.4 365,815.2 371,817.7 377,820.2 383,823.6 389,831.9 395,837.7 401,843.5 406.9,841.9 412.9,832.7 420.6,823.6 426.6,812.7 432.6,803.6 438.6,798.6 444.6,795.6 450.6,795.6 456.5,800.3 462.5,808.6 468.5,820.2 474.5,826.9 480.5,828.9 486.8,830.2 492.8,826.1 498.8,823.6 504.8,822.2 510.8,817.7 516.8,817.2 522.8,821.1 528.8,828.6 534.8,836 540.8,843.5 546.7,849.4 552.7,853.9 558.7,857.2 564.7,857.7 570.7,859.3 576.7,859.3 582.7,856 588.7,848.9 594.7,845.5 600.7,845.2 606.7,842.2 612.7,839.4 618.6,841.5 624.6,846 632.3,844.9 638.3,839.4 644.3,833.5 650.3,826.9 656.3,821.6 662.3,819.4 668.2,821.6 674.2,826.1 680.2,833.2 686.2,838.5 692.2,835.2 698.2,829.9 704.2,822.7 710.2,819.4 716.2,818.6 722.2,818.2 728.2,816.9 734.1,809.9 740.1,804.4 746.1,799.4 752.1,798.6 758.1,798.3 764.1,795.6 770.1,794.4 776.1,789.4 782.1,785.6 788.1,785.6 794.1,789.4 800.1,791.9 806.1,800.3 812,809.4 818,817.7 824,825.2 830,831 836,829.4 843.5,823.6 849.5,816.9 855.5,814.4 861.5,812.2 867.5,815.2 873.5,815.2 879.5,812.7 885.4,806.1 891.4,800.3 897.4,793.6 903.4,789.4 909.4,788.9 915.4,788.9 921.4,791.1 927.4,801.9 933.4,811.9 939.4,821.1 945.4,826.9 951.4,831.9 957.4,831 963.7,830.2 969.7,827.2 975.6,819.4 981.6,811.9 987.6,803.6 993.6,796.6 999.6,791.9 1005.6,788.9 1011.6,786.6 1017.6,786.6 1023.6,785.6 1029.6,786.1 1035.6,789.4 1041.6,794.9 1047.5,794.9 1055.2,791.1 1061.2,787.3 1067.2,784.9 1073.2,783.3 1079.2,780.6 1085.2,779.5 1091.2,779.9 1097.2,781.1 1103.1,781.9 1109.1,789.4 1115.1,800.3 1121.1,806.1 1127.1,810.2 1133.1,816.9 1139.1,821.1 1145.1,828.6 1151.1,837.7 1157.1,841.9 1163.1,847.7 1169.1,852.7 1175,855.5 1181,850.2 1187.2,843.5 1193.2,832.7 1199.2,825.2 1205.2,821.1 1211,816.9 1217,815.2 1223,815.2 1229,813.6 1235,816.9 1241,818.9 1247,815.2 1252.9,807.7 1260.6,801.1 1266.6,798.9 1272.6,801.1 1278.6,800.3 1284.6,796.1 1290.6,792.8 1296.6,791.1 1302.5,789.9 1308.5,789.9 1314.5,798.6 1320.5,807.7 1326.5,815.2 1332.5,819.4 1338.5,824.4 1344.5,827.2 1350.5,821.9 1356.5,816.6 1362.5,813.6 1368.5,815.2 1374.4,821.9 1380.4,827.7 1386.4,832.7 1392.4,837.7 1398.4,841.5 1404.4,843.5 1410.4,843.9 1416.4,846 1422.4,836.9 1428.4,825.2 1434.4,815.2 1440.4,806.1 1446.4,799.9" fill="none" stroke="#e6e600" stroke-width="1.15" stroke-linejoin="round"/>
<polyline points="3.3,877.2 6.7,877.2 15.8,884.8 21.6,877.2 27.5,873.5 33.6,859.3 39.6,850.2 44.9,851 51.6,865.2 57.6,859.3 63.6,870.2 69.6,878.8 73.2,845.2 78.2,808.6 81.6,790.3 87.5,777 93.5,773.3 99.5,777.3 105.5,779.9 111.5,797.8 117.5,786.9 123.5,782.3 129.5,824.4 135.5,810.2 141.5,795.6 147.5,825.2 153.5,847.2 159.5,828.6 165.4,815.6 171.4,829.4 177.4,843.5 183.4,873.5 189.4,880.1 193.1,845.2 201.6,769.5 207.6,753.7 215.2,747.8 221.2,748.3 227.2,755.6 233.2,752.3 239.2,761.1 245.2,768.6 251.2,781.1 257.1,770.3 263.1,762.8 269.1,775.3 275.1,789.4 281.1,792.8 287.1,781.1 293.1,778.6 299.1,767.8 305.1,762.8 311.1,771.1 317.1,791.6 323.1,774.5 329,772 335,791.9 341,835.2 347,859.3 353,848.5 359,840.2 365,846 371,838.2 377,837.7 383,850.2 389,872.7 395,872.7 401,878.5 406.9,835.2 412.9,777 420.6,762 426.6,751.2 432.6,746.7 438.6,770.3 444.6,781.9 450.6,796.9 456.5,823.6 462.5,861 468.5,886.8 474.5,860.2 480.5,841.9 486.8,833.5 492.8,808.6 498.8,806.1 504.8,813.6 510.8,781.9 516.8,813.6 522.8,846.9 528.8,872.7 534.8,878.5 540.8,886 546.7,881.5 552.7,881 558.7,884.3 564.7,861.8 570.7,859.3 576.7,859.3 582.7,836.9 588.7,801.9 594.7,826.9 600.7,842.7 606.7,824.4 612.7,821.9 618.6,858.5 624.6,871 632.3,836.9 638.3,806.9 644.3,798.6 650.3,790.3 656.3,788.3 662.3,807.7 668.2,834.4 674.2,855.2 680.2,876 686.2,870.2 692.2,813.6 698.2,795.3 704.2,779.5 710.2,798.6 716.2,818.6 722.2,813.6 728.2,805.2 734.1,777.8 740.1,767.8 746.1,772 752.1,789.4 758.1,793.6 764.1,777.8 770.1,783.6 776.1,765 782.1,762.8 788.1,786.9 794.1,809.4 800.1,806.9 806.1,848.5 812,861 818,872.7 824,871 830,865.2 836,821.9 843.5,788.6 849.5,776.6 855.5,804.9 861.5,799.4 867.5,828.6 873.5,820.2 879.5,791.9 885.4,767 891.4,761.6 897.4,754 903.4,766.1 909.4,781.1 915.4,786.9 921.4,808.6 927.4,859.3 933.4,871 939.4,876.8 945.4,859.3 951.4,860.2 957.4,828.6 963.7,823.6 969.7,806.9 975.6,779.5 981.6,767 987.6,752.8 993.6,759.5 999.6,765.3 1005.6,768.6 1011.6,770.6 1017.6,781.1 1023.6,777.8 1029.6,786.9 1035.6,807.7 1041.6,831.9 1047.5,795.3 1055.2,772 1061.2,761.6 1067.2,770.3 1073.2,774.5 1079.2,764.5 1085.2,765.3 1091.2,782.8 1097.2,786.9 1103.1,793.6 1109.1,831.9 1115.1,866 1121.1,846 1127.1,835.2 1133.1,854.4 1139.1,848.5 1145.1,873.5 1151.1,887.6 1157.1,872.7 1163.1,879.3 1169.1,886 1175,873.5 1181,831.9 1187.2,803.6 1193.2,773.6 1199.2,777.8 1205.2,786.1 1211,791.1 1217,803.6 1223,815.2 1229,809.4 1235,831 1241,835.2 1247,791.9 1252.9,762.8 1260.6,772.8 1266.6,781.9 1272.6,803.6 1278.6,800.3 1284.6,783.6 1290.6,769 1296.6,780.3 1302.5,777.8 1308.5,790.3 1314.5,838.5 1320.5,865.2 1326.5,861 1332.5,843.9 1338.5,853.2 1344.5,848.5 1350.5,791.1 1356.5,786.9 1362.5,790.3 1368.5,825.2 1374.4,860.2 1380.4,859.3 1386.4,861.8 1392.4,861.8 1398.4,865.2 1404.4,861.8 1410.4,851.9 1416.4,846 1422.4,791.9 1428.4,756.1 1434.4,755.3 1440.4,745 1446.4,757.3" fill="none" stroke="#ff00ff" stroke-width="1.15" stroke-linejoin="round"/>
<g id="axes" stroke="#800000" fill="none">
<line x1="1469.2" y1="12" x2="1469.2" y2="895" stroke-width="2"/>
<line x1="0" y1="539.5" x2="1508" y2="539.5" stroke-width="2"/>
<line x1="0" y1="715" x2="1508" y2="715" stroke-width="2"/>
<line x1="0" y1="892.3" x2="1508" y2="892.3" stroke-width="2.2"/>
<line x1="1469.2" y1="692.6" x2="1508" y2="692.6" stroke-width="1.6"/>
<line x1="62.5" y1="892" x2="62.5" y2="895" stroke-width="1.8"/>
<line x1="95" y1="892" x2="95" y2="895" stroke-width="1.8"/>
<line x1="128.5" y1="892" x2="128.5" y2="895" stroke-width="1.8"/>
<line x1="162.5" y1="892" x2="162.5" y2="895" stroke-width="1.8"/>
<line x1="195" y1="892" x2="195" y2="895" stroke-width="1.8"/>
<line x1="217.5" y1="892" x2="217.5" y2="895" stroke-width="1.8"/>
<line x1="241.5" y1="892" x2="241.5" y2="895" stroke-width="1.8"/>
<line x1="264" y1="892" x2="264" y2="895" stroke-width="1.8"/>
<line x1="287.5" y1="892" x2="287.5" y2="895" stroke-width="1.8"/>
<line x1="320" y1="892" x2="320" y2="895" stroke-width="1.8"/>
<line x1="350" y1="892" x2="350" y2="895" stroke-width="1.8"/>
<line x1="382.5" y1="892" x2="382.5" y2="895" stroke-width="1.8"/>
<line x1="412.5" y1="892" x2="412.5" y2="895" stroke-width="1.8"/>
<line x1="444" y1="892" x2="444" y2="895" stroke-width="1.8"/>
<line x1="476" y1="892" x2="476" y2="895" stroke-width="1.8"/>
<line x1="507.5" y1="892" x2="507.5" y2="895" stroke-width="1.8"/>
<line x1="539" y1="892" x2="539" y2="895" stroke-width="1.8"/>
<line x1="570" y1="892" x2="570" y2="895" stroke-width="1.8"/>
<line x1="602.5" y1="892" x2="602.5" y2="895" stroke-width="1.8"/>
<line x1="631" y1="892" x2="631" y2="895" stroke-width="1.8"/>
<line x1="662.5" y1="892" x2="662.5" y2="895" stroke-width="1.8"/>
<line x1="692.5" y1="892" x2="692.5" y2="895" stroke-width="1.8"/>
<line x1="720" y1="892" x2="720" y2="895" stroke-width="1.8"/>
<line x1="750" y1="892" x2="750" y2="895" stroke-width="1.8"/>
<line x1="774" y1="892" x2="774" y2="895" stroke-width="1.8"/>
<line x1="809" y1="892" x2="809" y2="895" stroke-width="1.8"/>
<line x1="845.5" y1="892" x2="845.5" y2="895" stroke-width="1.8"/>
<line x1="879" y1="892" x2="879" y2="895" stroke-width="1.8"/>
<line x1="914" y1="892" x2="914" y2="895" stroke-width="1.8"/>
<line x1="947.5" y1="892" x2="947.5" y2="895" stroke-width="1.8"/>
<line x1="980" y1="892" x2="980" y2="895" stroke-width="1.8"/>
<line x1="1013" y1="892" x2="1013" y2="895" stroke-width="1.8"/>
<line x1="1044" y1="892" x2="1044" y2="895" stroke-width="1.8"/>
<line x1="1076.5" y1="892" x2="1076.5" y2="895" stroke-width="1.8"/>
<line x1="1107.5" y1="892" x2="1107.5" y2="895" stroke-width="1.8"/>
<line x1="1136.5" y1="892" x2="1136.5" y2="895" stroke-width="1.8"/>
<line x1="1168" y1="892" x2="1168" y2="895" stroke-width="1.8"/>
<line x1="1196.5" y1="892" x2="1196.5" y2="895" stroke-width="1.8"/>
<line x1="1224" y1="892" x2="1224" y2="895" stroke-width="1.8"/>
<line x1="1249" y1="892" x2="1249" y2="895" stroke-width="1.8"/>
<line x1="1277.5" y1="892" x2="1277.5" y2="895" stroke-width="1.8"/>
<line x1="1309" y1="892" x2="1309" y2="895" stroke-width="1.8"/>
<line x1="1340" y1="892" x2="1340" y2="895" stroke-width="1.8"/>
<line x1="1372.5" y1="892" x2="1372.5" y2="895" stroke-width="1.8"/>
<line x1="1404" y1="892" x2="1404" y2="895" stroke-width="1.8"/>
<line x1="1471.2" y1="715" x2="1471.2" y2="895" stroke-width="2"/>
<line x1="1469.2" y1="891.5" x2="1508" y2="891.5" stroke-width="3"/>
<line x1="1469.2" y1="37.1" x2="1477.6" y2="37.1" stroke-width="1.5"/>
<line x1="1469.2" y1="76.8" x2="1473" y2="76.8" stroke-width="1.5"/>
<line x1="1469.2" y1="116.5" x2="1477.6" y2="116.5" stroke-width="1.5"/>
<line x1="1469.2" y1="156.2" x2="1473" y2="156.2" stroke-width="1.5"/>
<line x1="1469.2" y1="195.9" x2="1477.6" y2="195.9" stroke-width="1.5"/>
<line x1="1469.2" y1="235.6" x2="1473" y2="235.6" stroke-width="1.5"/>
<line x1="1469.2" y1="275.3" x2="1477.6" y2="275.3" stroke-width="1.5"/>
<line x1="1469.2" y1="315" x2="1473" y2="315" stroke-width="1.5"/>
<line x1="1469.2" y1="354.7" x2="1477.6" y2="354.7" stroke-width="1.5"/>
<line x1="1469.2" y1="394.4" x2="1473" y2="394.4" stroke-width="1.5"/>
<line x1="1469.2" y1="434.1" x2="1477.6" y2="434.1" stroke-width="1.5"/>
<line x1="1469.2" y1="473.8" x2="1473" y2="473.8" stroke-width="1.5"/>
<line x1="1469.2" y1="513.5" x2="1477.6" y2="513.5" stroke-width="1.5"/>
<line x1="1469.2" y1="590.6" x2="1477.6" y2="590.6" stroke-width="1.5"/>
<line x1="1469.2" y1="611" x2="1473" y2="611" stroke-width="1.5"/>
<line x1="1469.2" y1="630.9" x2="1477.6" y2="630.9" stroke-width="1.5"/>
<line x1="1469.2" y1="651.5" x2="1473" y2="651.5" stroke-width="1.5"/>
<line x1="1469.2" y1="671.4" x2="1477.6" y2="671.4" stroke-width="1.5"/>
</g>
<g id="axlabels" class="r">
<text x="1495.6" y="43.2">1800</text>
<text x="1495.6" y="82.9">1750</text>
<text x="1495.6" y="122.6">1700</text>
<text x="1495.6" y="162.3">1650</text>
<text x="1495.6" y="202">1600</text>
<text x="1495.6" y="241.7">1550</text>
<text x="1495.6" y="281.4">1500</text>
<text x="1495.6" y="321.1">1450</text>
<text x="1495.6" y="360.8">1400</text>
<text x="1495.6" y="400.5">1350</text>
<text x="1495.6" y="440.2">1300</text>
<text x="1495.6" y="479.9">1250</text>
<text x="1495.6" y="519.6">1200</text>
<text x="1515.4" y="597.2" text-anchor="end">150</text>
<text x="1515.4" y="637.5" text-anchor="end">100</text>
<text x="1515.4" y="678" text-anchor="end">50</text>
<text x="1472.6" y="710.4">X1万</text>
<text x="1510.8" y="771.1" text-anchor="end">100</text>
<text x="1510.8" y="793.6" text-anchor="end">80</text>
<text x="1510.8" y="826.6" text-anchor="end">50</text>
<text x="1510.8" y="861.3" text-anchor="end">20</text>
<text x="1510.8" y="883.8" text-anchor="end">0</text>
</g>
<g id="topbar">
<rect x="0" y="0" width="1508" height="12" fill="url(#tb)"/>
<rect x="0" y="0" width="25" height="2.6" fill="#f4f4f4"/>
<rect x="579.5" y="-2" width="56" height="10.5" fill="#e6e6e6" stroke="#bdbdbd" stroke-width="1"/>
<rect x="646" y="-2" width="57.5" height="10.5" fill="#e6e6e6" stroke="#bdbdbd" stroke-width="1"/>
<rect x="1498" y="-6" width="20" height="12.4" rx="5.5" fill="#f6f6f6" stroke="#b8b8b8" stroke-width="1"/>
<g class="menu">
<text x="40" y="-1.2" textLength="35" lengthAdjust="spacingAndGlyphs" style="font-size:16.5px;fill:#2a2a2a">系统</text>
<text x="108" y="-1.2" textLength="32" lengthAdjust="spacingAndGlyphs" style="font-size:16.5px;fill:#2a2a2a">功能</text>
<text x="171" y="-1.2" textLength="32" lengthAdjust="spacingAndGlyphs" style="font-size:16.5px;fill:#2a2a2a">报价</text>
<text x="234" y="-1.2" textLength="32" lengthAdjust="spacingAndGlyphs" style="font-size:16.5px;fill:#2a2a2a">分析</text>
<text x="292" y="-1.2" textLength="68" lengthAdjust="spacingAndGlyphs" style="font-size:16.5px;fill:#2a2a2a">扩展行情</text>
<text x="382.6" y="-1.2" textLength="35.4" lengthAdjust="spacingAndGlyphs" style="font-size:16.5px;fill:#2a2a2a">资讯</text>
<text x="448" y="-1.2" textLength="33" lengthAdjust="spacingAndGlyphs" style="font-size:16.5px;fill:#2a2a2a">工具</text>
<text x="513.6" y="-1.2" textLength="32.7" lengthAdjust="spacingAndGlyphs" style="font-size:16.5px;fill:#2a2a2a">帮助</text>
<text x="589" y="-1.2" textLength="35.4" lengthAdjust="spacingAndGlyphs" style="font-size:16.5px;fill:#e01010">交易</text>
<text x="657" y="-1.2" textLength="35.4" lengthAdjust="spacingAndGlyphs" style="font-size:16.5px;fill:#e01010">服务</text>
<text x="997" y="-1.2" textLength="201" lengthAdjust="spacingAndGlyphs" style="font-size:16.5px;fill:#2a2a2a">通达信金融终端 创业板指</text>
</g>
</g>
<g id="texts">
<text class="w" style="font-weight:300;fill:#efefef" x="3" y="31.6" textLength="182.6" lengthAdjust="spacingAndGlyphs">创业板指(日线.前复权)</text>
<use href="#cb" x="225" y="25.5"/>
<text class="w" x="459.4" y="56.8" textLength="67.6" lengthAdjust="spacingAndGlyphs">1792.03</text>
<path d="M439.6,41.6 q1.5,-1.6 4.6,-0.6 M439.6,41.6 l0.6,5.2 M439.8,42.2 q4,3.4 8.4,4.4 t7.6,2.4" fill="none" stroke="#e4e4e4" stroke-width="1.2"/>
<text class="w" x="95.2" y="520.6" textLength="67.4" lengthAdjust="spacingAndGlyphs">1201.80</text>
<path d="M75.4,513.6 H92.6 M75.4,513.6 l4.4,-3.4 M75.4,513.6 l4.8,4.6" fill="none" stroke="#e4e4e4" stroke-width="1.3"/>
<use href="#cb" x="12" y="552.2"/>
<text class="w" x="26.9" y="557.6" textLength="77.5" lengthAdjust="spacingAndGlyphs">VOLUME:</text>
<text class="w" x="110" y="557.6" textLength="107.8" lengthAdjust="spacingAndGlyphs">77995584.00</text>
<text class="w" x="227.8" y="557.6" textLength="36.8" lengthAdjust="spacingAndGlyphs">MA5:</text>
<text class="w" x="271.2" y="557.6" textLength="107.3" lengthAdjust="spacingAndGlyphs">70981320.00</text>
<text class="y" x="388.4" y="557.6" textLength="47.8" lengthAdjust="spacingAndGlyphs">MA10:</text>
<text class="y" x="441.6" y="557.6" textLength="107.9" lengthAdjust="spacingAndGlyphs">61190216.00</text>
<use href="#cb" x="12" y="727.7"/>
<text class="w" x="28" y="733.5" textLength="84.8" lengthAdjust="spacingAndGlyphs">KDJ(9,3,3)</text>
<text class="w" x="122.8" y="733.5" textLength="14.5" lengthAdjust="spacingAndGlyphs">K:</text>
<text class="w" x="143.4" y="733.5" textLength="43.7" lengthAdjust="spacingAndGlyphs">81.74</text>
<text class="y" x="197.6" y="733.5" textLength="16.4" lengthAdjust="spacingAndGlyphs">D:</text>
<text class="y" x="220.7" y="733.5" textLength="43.5" lengthAdjust="spacingAndGlyphs">69.70</text>
<text class="m" x="273" y="733.5" textLength="12.2" lengthAdjust="spacingAndGlyphs">J:</text>
<text class="m" x="291.6" y="733.5" textLength="55.3" lengthAdjust="spacingAndGlyphs">105.83</text>
</g>
<path d="M1427.3,18.2 L1435.3,26.1 L1427.3,34 L1419.3,26.1 Z" fill="none" stroke="#7c7c7c" stroke-width="1.2"/>
<rect x="1446.7" y="18.9" width="16.6" height="15" rx="3" fill="none" stroke="#626262" stroke-width="1.5"/>
<rect x="1456.5" y="21.3" width="4.4" height="10.2" fill="#6a6a6a"/>
</svg></body></html>
